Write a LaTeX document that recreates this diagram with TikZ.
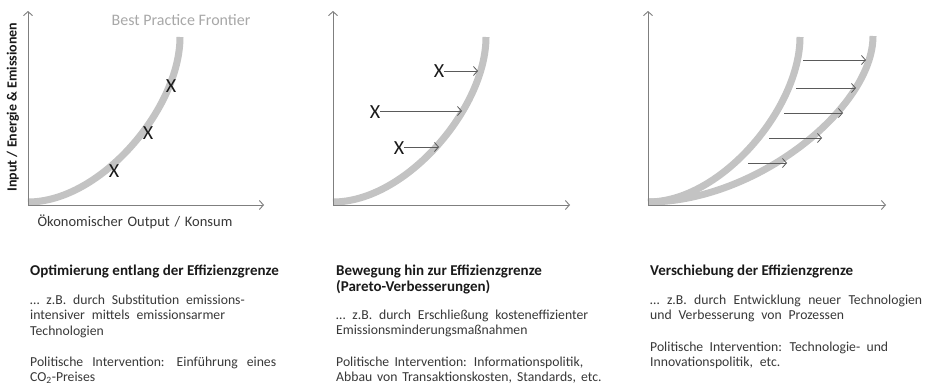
\documentclass[tikz,border=0pt]{standalone}
\usepackage{fontspec}
\setmainfont{Carlito}
\usetikzlibrary{arrows.meta}
\definecolor{axisgray}{HTML}{7F7F7F}
\definecolor{curvegray}{HTML}{C3C3C3}
\definecolor{arrowgray}{HTML}{5A5A5A}
\definecolor{bodygray}{HTML}{383838}
\definecolor{labelgray}{HTML}{A8A8A8}
\definecolor{titleblack}{HTML}{1A1A1A}
\newcommand{\wline}[2]{\makebox[#1pt][s]{#2}}
\newcommand{\widesp}{\spaceskip=0.5em plus 0.3em minus 0.15em\relax}
\newcommand{\axsp}{\spaceskip=0.33em plus 0.2em minus 0.1em\relax}
\begin{document}
\begin{tikzpicture}[x=1pt,y=-1pt,
  axis/.style={draw=axisgray, line width=0.9pt, -{Straight Barb[length=4pt,width=9pt,line width=0.9pt]}},
  frontier/.style={draw=curvegray, line width=7pt},
  shiftarrow/.style={draw=arrowgray, line width=0.8pt, -{Straight Barb[length=4pt,width=9pt,line width=0.8pt]}},
  xmark/.style={font=\fontsize{20}{20}\selectfont, text=titleblack, inner sep=0pt},
  titletext/.style={anchor=base west, inner sep=0pt, align=left, text=titleblack,
    font=\fontsize{15}{16}\selectfont\bfseries},
  bodytext/.style={anchor=base west, inner sep=0pt, align=left, text=bodygray,
    font=\fontsize{13.7}{15.5}\selectfont\widesp},
  axislabel/.style={inner sep=0pt, text=bodygray, font=\fontsize{14.5}{15}\selectfont\axsp}
]
\useasboundingbox[fill=white] (0,0) rectangle (925,388);

% ---------- Panel 1 ----------
\coordinate (o1) at (28,205);
\coordinate (y1) at (28,11);
\coordinate (x1) at (264,205);
\draw[frontier] (28,202) .. controls (101,202) and (180,108) .. (180,37);
\draw[axis] (o1) -- (y1);
\draw[axis] (o1) -- (x1);
\node[xmark] (a1) at (114,171) {X};
\node[xmark] (a2) at (148,133) {X};
\node[xmark] (a3) at (171,86) {X};
\node[inner sep=0pt, text=labelgray, font=\fontsize{16}{16}\selectfont] (bpf) at (181,20) {Best Practice Frontier};
\node[inner sep=0pt, rotate=90, text=titleblack, font=\fontsize{14}{14}\selectfont\bfseries] (ylab) at (13,107) {Input / Energie \& Emissionen};
\node[axislabel] (xlab) at (135,222) {Ökonomischer Output / Konsum};

\node[titletext] (t1) at (30,275) {Optimierung entlang der Effizienzgrenze};
\node[bodytext] (b11) at (30,335) {… z.B. durch Substitution emissions-\\intensiver mittels emissionsarmer\\Technologien};
\node[bodytext] (b12) at (30,381.5) {\wline{246}{Politische Intervention: Einführung eines}\\CO\textsubscript{2}-Preises};

% ---------- Panel 2 ----------
\coordinate (o2) at (333,205);
\coordinate (y2) at (333,11);
\coordinate (x2) at (570,205);
\draw[frontier] (333,202) .. controls (406,202) and (486,108) .. (486,37);
\draw[axis] (o2) -- (y2);
\draw[axis] (o2) -- (x2);
\node[xmark] (p1) at (439,71) {X};
\node[xmark] (p2) at (375,112) {X};
\node[xmark] (p3) at (399,148) {X};
\coordinate (q1) at (478,71);
\coordinate (q2) at (462,111);
\coordinate (q3) at (439,147);
\draw[shiftarrow] (p1.east |- q1) -- (q1);
\draw[shiftarrow] (p2.east |- q2) -- (q2);
\draw[shiftarrow] (p3.east |- q3) -- (q3);

\node[titletext] (t2) at (336,291) {Bewegung hin zur Effizienzgrenze\\(Pareto-Verbesserungen)};
\node[bodytext] (b21) at (336,334.5) {\wline{252}{… z.B. durch Erschließung kosteneffizienter}\\Emissionsminderungsmaßnahmen};
\node[bodytext] (b22) at (336,381.5) {\wline{247}{Politische Intervention: Informationspolitik,}\\\wline{251}{Abbau von Transaktionskosten, Standards, etc.}};

% ---------- Panel 3 ----------
\coordinate (o3) at (648,205);
\coordinate (y3) at (648,11);
\coordinate (x3) at (886,205);
\draw[frontier] (648,202) .. controls (721,202) and (800,108) .. (800,37);
\draw[frontier] (648,202) .. controls (756,202) and (873,108) .. (873,36);
\draw[axis] (o3) -- (y3);
\draw[axis] (o3) -- (x3);
\foreach \i/\yy/\xs/\xe in {1/60/803/866, 2/88/796/856, 3/113/784/843, 4/138/769/822, 5/163/748/787}{
  \coordinate (s\i) at (\xs,\yy);
  \coordinate (e\i) at (\xe,\yy);
  \draw[shiftarrow] (s\i) -- (e\i);
}

\node[titletext] (t3) at (650,275) {Verschiebung der Effizienzgrenze};
\node[bodytext] (b31) at (650,319.5) {\wline{272}{… z.B. durch Entwicklung neuer Technologien}\\und Verbesserung von Prozessen};
\node[bodytext] (b32) at (650,366.5) {\wline{238}{Politische Intervention: Technologie- und}\\Innovationspolitik, etc.};
\end{tikzpicture}
\end{document}
